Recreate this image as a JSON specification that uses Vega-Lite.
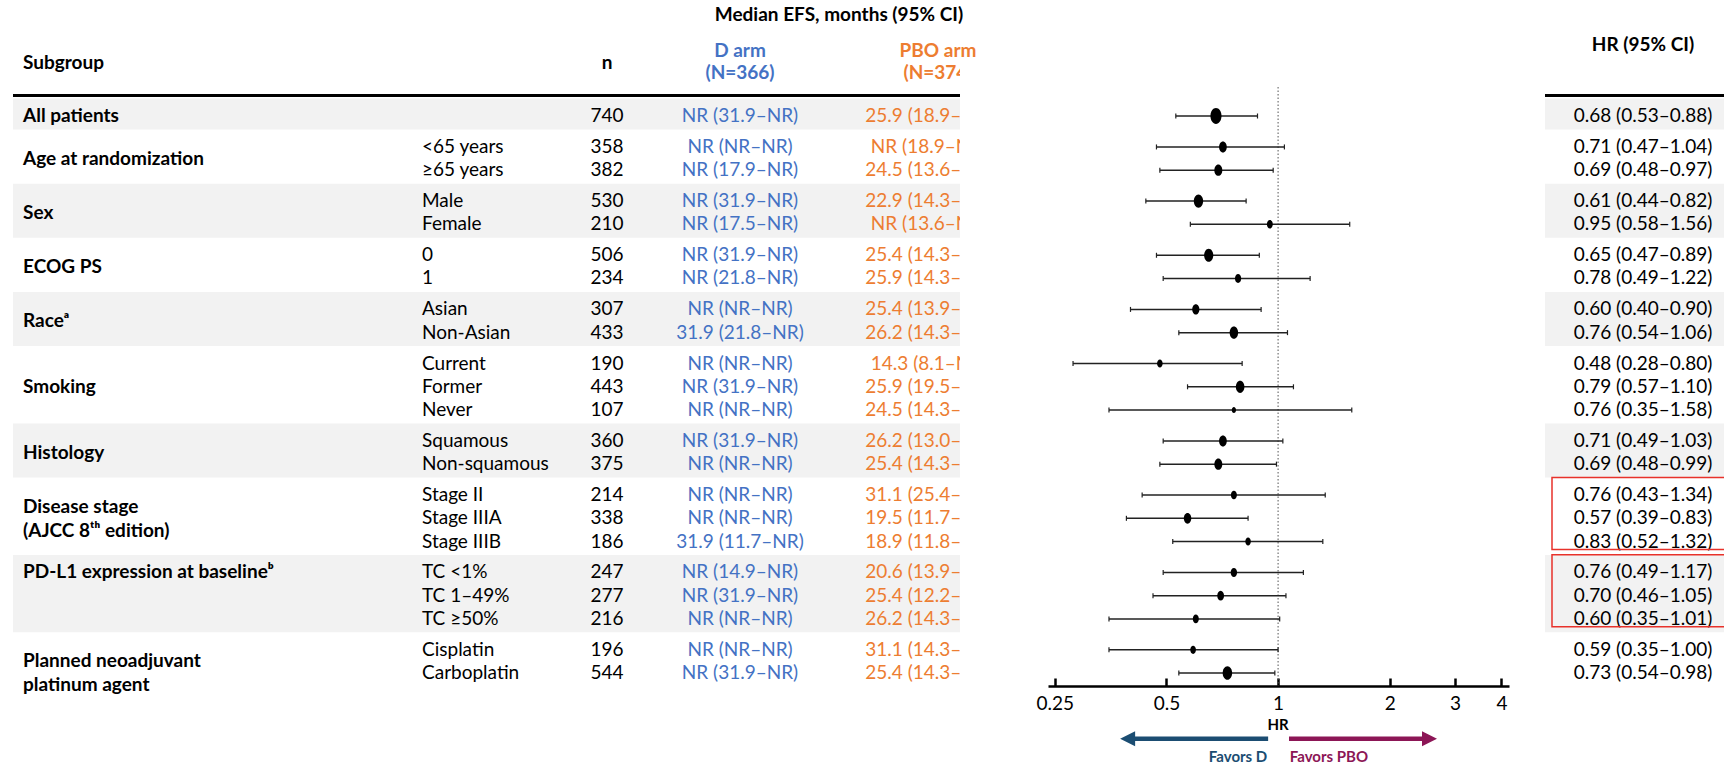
{
  "$schema": "https://vega.github.io/schema/vega-lite/v6.json",
  "padding": {"left": 11, "right": 0, "top": 0, "bottom": 0},
  "bounds": "flush",
  "spacing": 88,
  "background": "white",
  "config": {
    "view": {"stroke": null},
    "text": {"font": "Lato", "fontSize": 19, "color": "#000000"},
    "axis": {"labelFont": "Lato"}
  },
  "datasets": {
    "rows": [
      {"idx": 0, "grp": 0, "sub": "", "n": 740, "d": "NR (31.9–NR)", "pbo": "25.9 (18.9–NR)", "hr": 0.68, "lo": 0.53, "hi": 0.88, "hrci": "0.68 (0.53–0.88)"},
      {"idx": 1, "grp": 1, "sub": "<65 years", "n": 358, "d": "NR (NR–NR)", "pbo": "NR (18.9–NR)", "hr": 0.71, "lo": 0.47, "hi": 1.04, "hrci": "0.71 (0.47–1.04)"},
      {"idx": 2, "grp": 1, "sub": "≥65 years", "n": 382, "d": "NR (17.9–NR)", "pbo": "24.5 (13.6–NR)", "hr": 0.69, "lo": 0.48, "hi": 0.97, "hrci": "0.69 (0.48–0.97)"},
      {"idx": 3, "grp": 2, "sub": "Male", "n": 530, "d": "NR (31.9–NR)", "pbo": "22.9 (14.3–NR)", "hr": 0.61, "lo": 0.44, "hi": 0.82, "hrci": "0.61 (0.44–0.82)"},
      {"idx": 4, "grp": 2, "sub": "Female", "n": 210, "d": "NR (17.5–NR)", "pbo": "NR (13.6–NR)", "hr": 0.95, "lo": 0.58, "hi": 1.56, "hrci": "0.95 (0.58–1.56)"},
      {"idx": 5, "grp": 3, "sub": "0", "n": 506, "d": "NR (31.9–NR)", "pbo": "25.4 (14.3–NR)", "hr": 0.65, "lo": 0.47, "hi": 0.89, "hrci": "0.65 (0.47–0.89)"},
      {"idx": 6, "grp": 3, "sub": "1", "n": 234, "d": "NR (21.8–NR)", "pbo": "25.9 (14.3–NR)", "hr": 0.78, "lo": 0.49, "hi": 1.22, "hrci": "0.78 (0.49–1.22)"},
      {"idx": 7, "grp": 4, "sub": "Asian", "n": 307, "d": "NR (NR–NR)", "pbo": "25.4 (13.9–NR)", "hr": 0.60, "lo": 0.40, "hi": 0.90, "hrci": "0.60 (0.40–0.90)"},
      {"idx": 8, "grp": 4, "sub": "Non-Asian", "n": 433, "d": "31.9 (21.8–NR)", "pbo": "26.2 (14.3–NR)", "hr": 0.76, "lo": 0.54, "hi": 1.06, "hrci": "0.76 (0.54–1.06)"},
      {"idx": 9, "grp": 5, "sub": "Current", "n": 190, "d": "NR (NR–NR)", "pbo": "14.3 (8.1–NR)", "hr": 0.48, "lo": 0.28, "hi": 0.80, "hrci": "0.48 (0.28–0.80)"},
      {"idx": 10, "grp": 5, "sub": "Former", "n": 443, "d": "NR (31.9–NR)", "pbo": "25.9 (19.5–NR)", "hr": 0.79, "lo": 0.57, "hi": 1.10, "hrci": "0.79 (0.57–1.10)"},
      {"idx": 11, "grp": 5, "sub": "Never", "n": 107, "d": "NR (NR–NR)", "pbo": "24.5 (14.3–NR)", "hr": 0.76, "lo": 0.35, "hi": 1.58, "hrci": "0.76 (0.35–1.58)"},
      {"idx": 12, "grp": 6, "sub": "Squamous", "n": 360, "d": "NR (31.9–NR)", "pbo": "26.2 (13.0–NR)", "hr": 0.71, "lo": 0.49, "hi": 1.03, "hrci": "0.71 (0.49–1.03)"},
      {"idx": 13, "grp": 6, "sub": "Non-squamous", "n": 375, "d": "NR (NR–NR)", "pbo": "25.4 (14.3–NR)", "hr": 0.69, "lo": 0.48, "hi": 0.99, "hrci": "0.69 (0.48–0.99)"},
      {"idx": 14, "grp": 7, "sub": "Stage II", "n": 214, "d": "NR (NR–NR)", "pbo": "31.1 (25.4–NR)", "hr": 0.76, "lo": 0.43, "hi": 1.34, "hrci": "0.76 (0.43–1.34)"},
      {"idx": 15, "grp": 7, "sub": "Stage IIIA", "n": 338, "d": "NR (NR–NR)", "pbo": "19.5 (11.7–NR)", "hr": 0.57, "lo": 0.39, "hi": 0.83, "hrci": "0.57 (0.39–0.83)"},
      {"idx": 16, "grp": 7, "sub": "Stage IIIB", "n": 186, "d": "31.9 (11.7–NR)", "pbo": "18.9 (11.8–NR)", "hr": 0.83, "lo": 0.52, "hi": 1.32, "hrci": "0.83 (0.52–1.32)"},
      {"idx": 17, "grp": 8, "sub": "TC <1%", "n": 247, "d": "NR (14.9–NR)", "pbo": "20.6 (13.9–NR)", "hr": 0.76, "lo": 0.49, "hi": 1.17, "hrci": "0.76 (0.49–1.17)"},
      {"idx": 18, "grp": 8, "sub": "TC 1–49%", "n": 277, "d": "NR (31.9–NR)", "pbo": "25.4 (12.2–NR)", "hr": 0.70, "lo": 0.46, "hi": 1.05, "hrci": "0.70 (0.46–1.05)"},
      {"idx": 19, "grp": 8, "sub": "TC ≥50%", "n": 216, "d": "NR (NR–NR)", "pbo": "26.2 (14.3–NR)", "hr": 0.60, "lo": 0.35, "hi": 1.01, "hrci": "0.60 (0.35–1.01)"},
      {"idx": 20, "grp": 9, "sub": "Cisplatin", "n": 196, "d": "NR (NR–NR)", "pbo": "31.1 (14.3–NR)", "hr": 0.59, "lo": 0.35, "hi": 1.00, "hrci": "0.59 (0.35–1.00)"},
      {"idx": 21, "grp": 9, "sub": "Carboplatin", "n": 544, "d": "NR (31.9–NR)", "pbo": "25.4 (14.3–NR)", "hr": 0.73, "lo": 0.54, "hi": 0.98, "hrci": "0.73 (0.54–0.98)"}
    ],
    "glabels": [
      {"grp": 0, "a": 0, "b": 0, "label": "All patients"},
      {"grp": 1, "a": 1, "b": 2, "label": "Age at randomization"},
      {"grp": 2, "a": 3, "b": 4, "label": "Sex"},
      {"grp": 3, "a": 5, "b": 6, "label": "ECOG PS"},
      {"grp": 4, "a": 7, "b": 8, "label": "Raceᵃ"},
      {"grp": 5, "a": 9, "b": 11, "label": "Smoking"},
      {"grp": 6, "a": 12, "b": 13, "label": "Histology"},
      {"grp": 7, "a": 14, "b": 15, "label": ["Disease stage", "(AJCC 8ᵗʰ edition)"]},
      {"grp": 8, "a": 17, "b": 17, "label": "PD-L1 expression at baselineᵇ"},
      {"grp": 9, "a": 20, "b": 21, "label": ["Planned neoadjuvant", "platinum agent"]}
    ]
  },
  "hconcat": [
    {
      "width": 947,
      "height": 765,
      "layer": [
        {
          "data": {"name": "rows"},
          "transform": [
            {"calculate": "datum.idx + datum.grp / 3", "as": "u"},
            {"filter": "datum.grp % 2 == 0"},
            {"aggregate": [{"op": "min", "field": "u", "as": "umin"}, {"op": "max", "field": "u", "as": "umax"}], "groupby": ["grp"]},
            {"calculate": "datum.umin - 0.75", "as": "y1"},
            {"calculate": "datum.umax + 0.58", "as": "y2"}
          ],
          "mark": {"type": "rect", "color": "#F2F2F2"},
          "encoding": {
            "x": {"value": 0},
            "x2": {"value": "width"},
            "y": {"field": "y1", "type": "quantitative", "scale": {"domain": [-4.998, 27.962], "reverse": true, "nice": false, "zero": false}, "axis": null},
            "y2": {"field": "y2"}
          }
        },
        {
          "data": {"values": [{}]},
          "mark": {"type": "rule", "strokeWidth": 3, "color": "#000000"},
          "encoding": {
            "x": {"value": 0},
            "x2": {"value": "width"},
            "y": {"datum": -0.883, "type": "quantitative"}
          }
        },
        {
          "data": {"values": [{}]},
          "mark": {"type": "text", "text": "Median EFS, months (95% CI)", "fontWeight": "bold", "align": "center", "baseline": "middle"},
          "encoding": {
            "x": {"datum": 826, "type": "quantitative", "scale": {"domain": [0, 947], "nice": false, "zero": false}, "axis": null},
            "y": {"datum": -4.352, "type": "quantitative"}
          }
        },
        {
          "data": {"values": [{}]},
          "mark": {"type": "text", "text": "Subgroup", "fontWeight": "bold", "align": "left", "baseline": "middle"},
          "encoding": {"x": {"datum": 10, "type": "quantitative"}, "y": {"datum": -2.284, "type": "quantitative"}}
        },
        {
          "data": {"values": [{}]},
          "mark": {"type": "text", "text": "n", "fontWeight": "bold", "align": "center", "baseline": "middle"},
          "encoding": {"x": {"datum": 594, "type": "quantitative"}, "y": {"datum": -2.284, "type": "quantitative"}}
        },
        {
          "data": {"values": [{}]},
          "mark": {"type": "text", "text": "D arm", "fontWeight": "bold", "align": "center", "baseline": "middle", "color": "#4472C4"},
          "encoding": {"x": {"datum": 727, "type": "quantitative"}, "y": {"datum": -2.813, "type": "quantitative"}}
        },
        {
          "data": {"values": [{}]},
          "mark": {"type": "text", "text": "(N=366)", "fontWeight": "bold", "align": "center", "baseline": "middle", "color": "#4472C4"},
          "encoding": {"x": {"datum": 727, "type": "quantitative"}, "y": {"datum": -1.865, "type": "quantitative"}}
        },
        {
          "data": {"values": [{}]},
          "mark": {"type": "text", "text": "PBO arm", "fontWeight": "bold", "align": "center", "baseline": "middle", "color": "#ED7D31"},
          "encoding": {"x": {"datum": 925, "type": "quantitative"}, "y": {"datum": -2.813, "type": "quantitative"}}
        },
        {
          "data": {"values": [{}]},
          "mark": {"type": "text", "text": "(N=374)", "fontWeight": "bold", "align": "center", "baseline": "middle", "color": "#ED7D31", "clip": true},
          "encoding": {"x": {"datum": 925, "type": "quantitative"}, "y": {"datum": -1.865, "type": "quantitative"}}
        },
        {
          "data": {"name": "glabels"},
          "transform": [{"calculate": "(datum.a + datum.b) / 2 + datum.grp / 3", "as": "u"}],
          "mark": {"type": "text", "fontWeight": "bold", "align": "left", "baseline": "middle", "lineHeight": 24},
          "encoding": {
            "x": {"datum": 10, "type": "quantitative"},
            "y": {"field": "u", "type": "quantitative"},
            "text": {"field": "label"}
          }
        },
        {
          "data": {"name": "rows"},
          "transform": [{"calculate": "datum.idx + datum.grp / 3", "as": "u"}],
          "mark": {"type": "text", "align": "left", "baseline": "middle"},
          "encoding": {
            "x": {"datum": 409, "type": "quantitative"},
            "y": {"field": "u", "type": "quantitative"},
            "text": {"field": "sub"}
          }
        },
        {
          "data": {"name": "rows"},
          "transform": [{"calculate": "datum.idx + datum.grp / 3", "as": "u"}],
          "mark": {"type": "text", "align": "center", "baseline": "middle"},
          "encoding": {
            "x": {"datum": 594, "type": "quantitative"},
            "y": {"field": "u", "type": "quantitative"},
            "text": {"field": "n"}
          }
        },
        {
          "data": {"name": "rows"},
          "transform": [{"calculate": "datum.idx + datum.grp / 3", "as": "u"}],
          "mark": {"type": "text", "align": "center", "baseline": "middle", "color": "#4472C4"},
          "encoding": {
            "x": {"datum": 727, "type": "quantitative"},
            "y": {"field": "u", "type": "quantitative"},
            "text": {"field": "d"}
          }
        },
        {
          "data": {"name": "rows"},
          "transform": [{"calculate": "datum.idx + datum.grp / 3", "as": "u"}],
          "mark": {"type": "text", "align": "center", "baseline": "middle", "color": "#ED7D31", "clip": true},
          "encoding": {
            "x": {"datum": 916, "type": "quantitative"},
            "y": {"field": "u", "type": "quantitative"},
            "text": {"field": "pbo"}
          }
        }
      ]
    },
    {
      "spacing": 36,
      "bounds": "flush",
      "hconcat": [
        {
          "width": 461,
          "height": 765,
          "layer": [
            {
              "data": {"values": [{}]},
              "mark": {"type": "rule", "strokeDash": [1.5, 2], "color": "#555555", "strokeWidth": 1},
              "encoding": {
                "x": {"datum": 1, "type": "quantitative",
                  "scale": {"type": "log", "domain": [0.2397, 4.193], "nice": false},
                  "axis": {"values": [0.25, 0.5, 1, 2, 3, 4], "labelExpr": "datum.value", "title": null, "offset": -79,
                    "domainWidth": 2.5, "domainColor": "#000000", "tickWidth": 2.5, "tickColor": "#000000", "tickSize": -8,
                    "labelFontSize": 19, "labelColor": "#000000", "labelPadding": 25, "labelBaseline": "middle",
                    "grid": false, "labelFlush": false, "labelOverlap": false}},
                "y": {"datum": -1.249, "type": "quantitative", "scale": {"domain": [-4.998, 27.962], "reverse": true, "nice": false, "zero": false}, "axis": null},
                "y2": {"datum": 24.558}
              }
            },
            {
              "data": {"name": "rows"},
              "transform": [{"calculate": "datum.idx + datum.grp / 3", "as": "u"}],
              "mark": {"type": "rule", "color": "#222222", "strokeWidth": 1.5},
              "encoding": {
                "x": {"field": "lo", "type": "quantitative"},
                "x2": {"field": "hi"},
                "y": {"field": "u", "type": "quantitative"}
              }
            },
            {
              "data": {"name": "rows"},
              "transform": [{"calculate": "datum.idx + datum.grp / 3", "as": "u"}, {"fold": ["lo", "hi"], "as": ["end", "v"]}],
              "mark": {"type": "point", "shape": "M0,-1L0,1", "filled": false, "color": "#222222", "strokeWidth": 1.2, "opacity": 1, "size": 25},
              "encoding": {
                "x": {"field": "v", "type": "quantitative"},
                "y": {"field": "u", "type": "quantitative"}
              }
            },
            {
              "data": {"name": "rows"},
              "transform": [{"calculate": "datum.idx + datum.grp / 3", "as": "u"}],
              "mark": {"type": "point", "shape": "M0,-1C0.3866,-1 0.7,-0.5523 0.7,0C0.7,0.5523 0.3866,1 0,1C-0.3866,1 -0.7,0.5523 -0.7,0C-0.7,-0.5523 -0.3866,-1 0,-1Z", "filled": true, "color": "#000000", "opacity": 1, "strokeWidth": 0},
              "encoding": {
                "x": {"field": "hr", "type": "quantitative"},
                "y": {"field": "u", "type": "quantitative"},
                "size": {"field": "n", "type": "quantitative", "scale": {"domain": [0, 740], "range": [0, 250]}, "legend": null}
              }
            },
            {
              "data": {"values": [{}]},
              "mark": {"type": "text", "text": "HR", "fontWeight": "bold", "fontSize": 15, "align": "center", "baseline": "middle"},
              "encoding": {"x": {"datum": 1, "type": "quantitative"}, "y": {"datum": 26.23, "type": "quantitative"}}
            },
            {
              "data": {"values": [{}]},
              "mark": {"type": "rule", "color": "#1B4D72", "strokeWidth": 4.5},
              "encoding": {"x": {"datum": 0.393, "type": "quantitative"}, "x2": {"datum": 0.94}, "y": {"datum": 26.83, "type": "quantitative"}}
            },
            {
              "data": {"values": [{}]},
              "mark": {"type": "point", "shape": "M-1,0L1,-1L1,1Z", "filled": true, "color": "#1B4D72", "opacity": 1, "size": 225, "strokeWidth": 0},
              "encoding": {"x": {"datum": 0.393, "type": "quantitative"}, "y": {"datum": 26.83, "type": "quantitative"}}
            },
            {
              "data": {"values": [{}]},
              "mark": {"type": "rule", "color": "#8C1656", "strokeWidth": 4.5},
              "encoding": {"x": {"datum": 1.07, "type": "quantitative"}, "x2": {"datum": 2.56}, "y": {"datum": 26.83, "type": "quantitative"}}
            },
            {
              "data": {"values": [{}]},
              "mark": {"type": "point", "shape": "M1,0L-1,-1L-1,1Z", "filled": true, "color": "#8C1656", "opacity": 1, "size": 225, "strokeWidth": 0},
              "encoding": {"x": {"datum": 2.56, "type": "quantitative"}, "y": {"datum": 26.83, "type": "quantitative"}}
            },
            {
              "data": {"values": [{}]},
              "mark": {"type": "text", "text": "Favors D", "fontWeight": "bold", "fontSize": 15, "align": "right", "baseline": "middle", "color": "#1B4D72"},
              "encoding": {"x": {"datum": 0.935, "type": "quantitative"}, "y": {"datum": 27.61, "type": "quantitative"}}
            },
            {
              "data": {"values": [{}]},
              "mark": {"type": "text", "text": "Favors PBO", "fontWeight": "bold", "fontSize": 15, "align": "left", "baseline": "middle", "color": "#8C1656"},
              "encoding": {"x": {"datum": 1.075, "type": "quantitative"}, "y": {"datum": 27.61, "type": "quantitative"}}
            }
          ]
        },
        {
          "width": 181,
          "height": 765,
          "layer": [
            {
              "data": {"name": "rows"},
              "transform": [
                {"calculate": "datum.idx + datum.grp / 3", "as": "u"},
                {"filter": "datum.grp % 2 == 0"},
                {"aggregate": [{"op": "min", "field": "u", "as": "umin"}, {"op": "max", "field": "u", "as": "umax"}], "groupby": ["grp"]},
                {"calculate": "datum.umin - 0.75", "as": "y1"},
                {"calculate": "datum.umax + 0.58", "as": "y2"}
              ],
              "mark": {"type": "rect", "color": "#F2F2F2"},
              "encoding": {
                "x": {"value": 0},
                "x2": {"value": "width"},
                "y": {"field": "y1", "type": "quantitative", "scale": {"domain": [-4.998, 27.962], "reverse": true, "nice": false, "zero": false}, "axis": null},
                "y2": {"field": "y2"}
              }
            },
            {
              "data": {"values": [{}]},
              "mark": {"type": "rule", "strokeWidth": 3, "color": "#000000"},
              "encoding": {"x": {"value": 0}, "x2": {"value": "width"}, "y": {"datum": -0.883, "type": "quantitative"}}
            },
            {
              "data": {"values": [{}]},
              "mark": {"type": "text", "text": "HR (95% CI)", "fontWeight": "bold", "align": "center", "baseline": "middle"},
              "encoding": {
                "x": {"datum": 98, "type": "quantitative", "scale": {"domain": [0, 181], "nice": false, "zero": false}, "axis": null},
                "y": {"datum": -3.059, "type": "quantitative"}
              }
            },
            {
              "data": {"name": "rows"},
              "transform": [{"calculate": "datum.idx + datum.grp / 3", "as": "u"}],
              "mark": {"type": "text", "align": "center", "baseline": "middle"},
              "encoding": {
                "x": {"datum": 98, "type": "quantitative"},
                "y": {"field": "u", "type": "quantitative"},
                "text": {"field": "hrci"}
              }
            },
            {
              "data": {"name": "rows"},
              "transform": [
                {"calculate": "datum.idx + datum.grp / 3", "as": "u"},
                {"filter": "datum.grp == 7 || datum.grp == 8"},
                {"aggregate": [{"op": "min", "field": "u", "as": "umin"}, {"op": "max", "field": "u", "as": "umax"}], "groupby": ["grp"]},
                {"calculate": "datum.umin - 0.76", "as": "y1"},
                {"calculate": "datum.umax + 0.34", "as": "y2"}
              ],
              "mark": {"type": "rect", "fill": null, "stroke": "#E8322B", "strokeWidth": 1.5, "clip": true},
              "encoding": {
                "x": {"value": 7},
                "x2": {"value": 195},
                "y": {"field": "y1", "type": "quantitative"},
                "y2": {"field": "y2"}
              }
            }
          ]
        }
      ]
    }
  ]
}
